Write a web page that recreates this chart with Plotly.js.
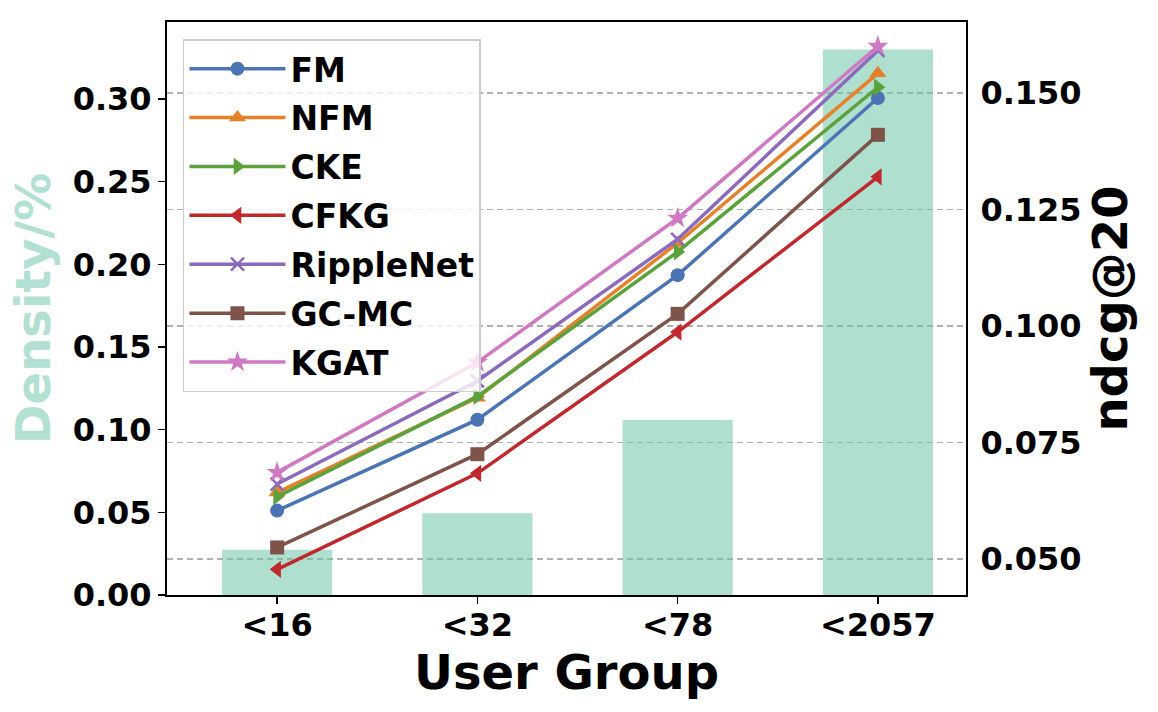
<!DOCTYPE html>
<html>
<head>
<meta charset="utf-8">
<script src="https://cdn.plot.ly/plotly-3.0.1.min.js"></script>
<style>html,body{margin:0;padding:0;background:#fff;}#chart{width:1158px;height:712px;}</style>
</head>
<body>
<div id="chart"></div>
<script>
// ---- data ----
const userGroups = ['<16', '<32', '<78', '<2057'];
const density = [0.0273, 0.0494, 0.1058, 0.330];

const seriesNames = ['FM', 'NFM', 'CKE', 'CFKG', 'RippleNet', 'GC-MC', 'KGAT'];
const fmNdcg        = [0.0604, 0.0799, 0.1109, 0.1489];
const nfmNdcg       = [0.0643, 0.0846, 0.1178, 0.1542];
const ckeNdcg       = [0.0634, 0.0849, 0.1159, 0.1512];
const cfkgNdcg      = [0.0478, 0.0684, 0.0987, 0.1320];
const rippleNetNdcg = [0.0661, 0.0882, 0.1186, 0.1591];
const gcmcNdcg      = [0.0525, 0.0725, 0.1026, 0.1410];
const kgatNdcg      = [0.0686, 0.0922, 0.1231, 0.1600];

const densityTicks = [0.00, 0.05, 0.10, 0.15, 0.20, 0.25, 0.30];
const ndcgTicks = [0.050, 0.075, 0.100, 0.125, 0.150];

// ---- styles ----
const seriesValues = [fmNdcg, nfmNdcg, ckeNdcg, cfkgNdcg, rippleNetNdcg, gcmcNdcg, kgatNdcg];
const colors = ['#4a74b4', '#e5812b', '#5ba23c', '#c0282d', '#8b69bd', '#7e5349', '#cf79c3'];
const symbols = ['circle', 'triangle-up', 'triangle-right', 'triangle-left', 'x-thin-open', 'square', 'star'];
const sizes = [14, 15, 15, 15, 13, 14, 16];
const FONT = '"DejaVu Sans", "Liberation Sans", sans-serif';

const traces = [{
  type: 'bar',
  x: userGroups,
  y: density,
  yaxis: 'y',
  width: 0.55,
  marker: {color: 'rgba(102,194,165,0.53)', line: {width: 0}},
  showlegend: false,
  hoverinfo: 'y'
}];

seriesNames.forEach((name, i) => {
  const isX = symbols[i] === 'x-thin-open';
  traces.push({
    type: 'scatter',
    mode: 'lines+markers',
    name: name,
    legendgroup: name,
    x: userGroups,
    y: seriesValues[i],
    yaxis: 'y2',
    line: {color: colors[i], width: 3.5},
    marker: {
      symbol: symbols[i],
      size: sizes[i],
      color: colors[i],
      line: isX ? {color: colors[i], width: 2.5} : {width: 0}
    }
  });
});

const layout = {
  width: 1158,
  height: 712,
  margin: {l: 167, r: 192, t: 22, b: 117},
  paper_bgcolor: '#ffffff',
  plot_bgcolor: 'rgba(0,0,0,0)',
  font: {family: FONT, weight: 'bold', color: '#000'},
  showlegend: true,
  legend: {
    x: 0.02, y: 0.97, xanchor: 'left', yanchor: 'top',
    bgcolor: 'rgba(255,255,255,0.8)',
    bordercolor: '#cccccc', borderwidth: 1.5,
    font: {family: FONT, size: 33, weight: 'bold', color: '#000'},
    itemwidth: 96,
    tracegroupgap: 3,
    traceorder: 'grouped'
  },
  xaxis: {
    type: 'category',
    range: [-0.55, 3.44],
    showline: true, linecolor: '#000', linewidth: 2, mirror: true,
    ticks: 'outside', ticklen: 7, tickwidth: 1.5, tickcolor: '#000',
    ticklabelstandoff: -6,
    showgrid: false, zeroline: false,
    tickfont: {family: FONT, size: 32, weight: 'bold', color: '#000'},
    title: {text: 'User Group', standoff: 6, font: {family: FONT, size: 48, weight: 'bold', color: '#000'}},
    automargin: false
  },
  yaxis: {
    range: [0, 0.3466],
    tickvals: densityTicks,
    ticktext: densityTicks.map(v => v.toFixed(2)),
    showline: true, linecolor: '#000', linewidth: 2,
    ticks: 'outside', ticklen: 7, tickwidth: 1.5, tickcolor: '#000',
    showgrid: false, zeroline: false,
    tickfont: {family: FONT, size: 32, weight: 'bold', color: '#000'},
    title: {text: 'Density/%', standoff: 7, font: {family: FONT, size: 48, weight: 'bold', color: '#b2e0d2'}},
    automargin: false
  },
  yaxis2: {
    overlaying: 'y',
    side: 'right',
    range: [0.0423, 0.1652],
    tickvals: ndcgTicks,
    ticktext: ndcgTicks.map(v => v.toFixed(3)),
    showline: true, linecolor: '#000', linewidth: 2,
    ticks: 'outside', ticklen: 6, tickwidth: 1, tickcolor: 'rgba(0,0,0,0)',
    showgrid: true, gridcolor: '#b0b0b0', gridwidth: 1.3, griddash: '6px,4px',
    zeroline: false,
    tickfont: {family: FONT, size: 32, weight: 'bold', color: '#000'},
    title: {text: 'ndcg@20', standoff: 10, font: {family: FONT, size: 48, weight: 'bold', color: '#000'}},
    automargin: false
  }
};

Plotly.newPlot('chart', traces, layout, {displayModeBar: false, staticPlot: true});
</script>
</body>
</html>
